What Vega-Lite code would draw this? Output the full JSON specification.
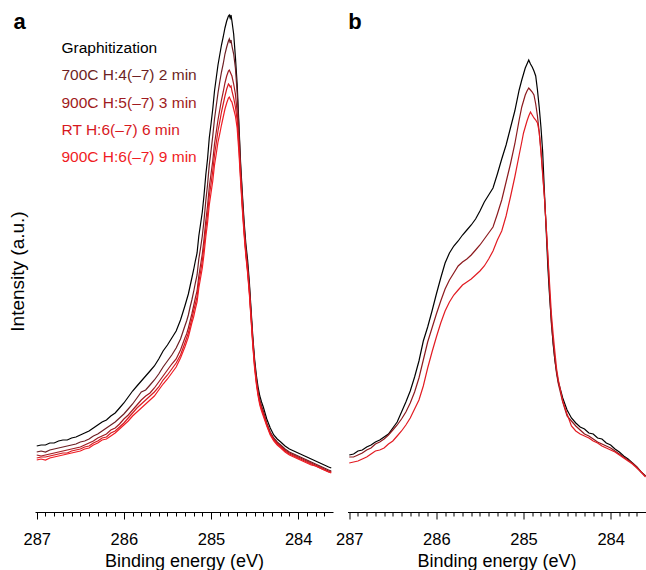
{
"$schema": "https://vega.github.io/schema/vega-lite/v6.json",
"padding": {"left": 8, "top": 10, "right": 1, "bottom": 0},
"background": "white",
"spacing": 14.5,
"bounds": "flush",
"config": {"view": {"stroke": null}, "font": "Liberation Sans"},
"datasets": {
"a": [
{"E":287.00,"K":66,"M":60,"D":57,"R":54,"B":52},
{"E":286.95,"K":67,"M":61,"D":56,"R":55,"B":53},
{"E":286.90,"K":67,"M":60,"D":57,"R":55,"B":52},
{"E":286.85,"K":69,"M":62,"D":58,"R":56,"B":54},
{"E":286.80,"K":69,"M":63,"D":59,"R":57,"B":55},
{"E":286.75,"K":71,"M":64,"D":60,"R":58,"B":56},
{"E":286.70,"K":72,"M":65,"D":61,"R":59,"B":57},
{"E":286.65,"K":72,"M":66,"D":62,"R":59,"B":58},
{"E":286.60,"K":74,"M":67,"D":63,"R":61,"B":59},
{"E":286.55,"K":75,"M":68,"D":64,"R":62,"B":60},
{"E":286.50,"K":77,"M":70,"D":65,"R":63,"B":61},
{"E":286.45,"K":79,"M":71,"D":67,"R":65,"B":63},
{"E":286.40,"K":81,"M":73,"D":69,"R":66,"B":64},
{"E":286.35,"K":84,"M":76,"D":71,"R":69,"B":67},
{"E":286.30,"K":87,"M":78,"D":74,"R":71,"B":69},
{"E":286.25,"K":90,"M":81,"D":76,"R":74,"B":72},
{"E":286.20,"K":92,"M":84,"D":78,"R":75,"B":73},
{"E":286.15,"K":96,"M":87,"D":82,"R":79,"B":76},
{"E":286.10,"K":99,"M":90,"D":84,"R":81,"B":79},
{"E":286.05,"K":104,"M":94,"D":88,"R":85,"B":83},
{"E":286.00,"K":109,"M":98,"D":93,"R":89,"B":87},
{"E":285.95,"K":115,"M":103,"D":97,"R":94,"B":91},
{"E":285.90,"K":121,"M":108,"D":102,"R":99,"B":96},
{"E":285.85,"K":126,"M":114,"D":107,"R":104,"B":100},
{"E":285.80,"K":131,"M":120,"D":112,"R":108,"B":104},
{"E":285.75,"K":136,"M":122,"D":116,"R":112,"B":108},
{"E":285.70,"K":141,"M":127,"D":119,"R":116,"B":112},
{"E":285.65,"K":146,"M":132,"D":124,"R":120,"B":116},
{"E":285.60,"K":153,"M":138,"D":130,"R":125,"B":122},
{"E":285.55,"K":161,"M":145,"D":136,"R":132,"B":128},
{"E":285.50,"K":167,"M":151,"D":142,"R":137,"B":133},
{"E":285.45,"K":174,"M":157,"D":148,"R":143,"B":139},
{"E":285.40,"K":181,"M":164,"D":153,"R":149,"B":145},
{"E":285.35,"K":192,"M":173,"D":162,"R":157,"B":154},
{"E":285.30,"K":206,"M":186,"D":174,"R":169,"B":165},
{"E":285.28,"K":212,"M":191,"D":178,"R":174,"B":170},
{"E":285.26,"K":218,"M":197,"D":184,"R":179,"B":175},
{"E":285.24,"K":226,"M":205,"D":191,"R":186,"B":182},
{"E":285.22,"K":234,"M":212,"D":198,"R":193,"B":189},
{"E":285.20,"K":242,"M":220,"D":206,"R":201,"B":195},
{"E":285.18,"K":251,"M":229,"D":214,"R":208,"B":203},
{"E":285.16,"K":259,"M":237,"D":221,"R":215,"B":210},
{"E":285.14,"K":276,"M":253,"D":236,"R":230,"B":224},
{"E":285.12,"K":288,"M":264,"D":247,"R":240,"B":234},
{"E":285.10,"K":300,"M":276,"D":258,"R":251,"B":244},
{"E":285.08,"K":317,"M":292,"D":273,"R":266,"B":258},
{"E":285.06,"K":337,"M":311,"D":291,"R":283,"B":275},
{"E":285.04,"K":353,"M":327,"D":306,"R":297,"B":289},
{"E":285.02,"K":374,"M":347,"D":325,"R":316,"B":307},
{"E":285.00,"K":388,"M":361,"D":338,"R":328,"B":319},
{"E":284.98,"K":403,"M":376,"D":351,"R":341,"B":331},
{"E":284.96,"K":421,"M":393,"D":368,"R":357,"B":347},
{"E":284.94,"K":434,"M":406,"D":380,"R":369,"B":358},
{"E":284.92,"K":447,"M":419,"D":392,"R":381,"B":370},
{"E":284.90,"K":457,"M":430,"D":402,"R":390,"B":378},
{"E":284.88,"K":467,"M":440,"D":412,"R":400,"B":387},
{"E":284.86,"K":475,"M":448,"D":420,"R":408,"B":395},
{"E":284.84,"K":484,"M":458,"D":429,"R":416,"B":403},
{"E":284.82,"K":491,"M":465,"D":436,"R":423,"B":409},
{"E":284.80,"K":496,"M":471,"D":441,"R":428,"B":414},
{"E":284.79,"K":497,"M":473,"D":442,"R":427,"B":415},
{"E":284.78,"K":494,"M":469,"D":440,"R":425,"B":413},
{"E":284.77,"K":497,"M":472,"D":438,"R":426,"B":411},
{"E":284.76,"K":491,"M":466,"D":436,"R":421,"B":410},
{"E":284.74,"K":478,"M":458,"D":428,"R":414,"B":403},
{"E":284.72,"K":455,"M":444,"D":418,"R":405,"B":396},
{"E":284.70,"K":428,"M":420,"D":400,"R":392,"B":384},
{"E":284.68,"K":388,"M":384,"D":372,"R":366,"B":360},
{"E":284.66,"K":348,"M":345,"D":338,"R":334,"B":330},
{"E":284.64,"K":318,"M":314,"D":308,"R":305,"B":302},
{"E":284.62,"K":290,"M":286,"D":282,"R":280,"B":277},
{"E":284.60,"K":268,"M":264,"D":260,"R":258,"B":256},
{"E":284.58,"K":252,"M":247,"D":243,"R":241,"B":239},
{"E":284.56,"K":230,"M":226,"D":222,"R":220,"B":218},
{"E":284.54,"K":202,"M":199,"D":196,"R":194,"B":192},
{"E":284.52,"K":175,"M":172,"D":170,"R":168,"B":166},
{"E":284.50,"K":153,"M":150,"D":148,"R":146,"B":144},
{"E":284.48,"K":137,"M":134,"D":132,"R":130,"B":128},
{"E":284.46,"K":125,"M":121,"D":119,"R":118,"B":116},
{"E":284.44,"K":116,"M":112,"D":110,"R":109,"B":107},
{"E":284.42,"K":110,"M":106,"D":104,"R":103,"B":101},
{"E":284.40,"K":105,"M":101,"D":99,"R":98,"B":96},
{"E":284.36,"K":93,"M":89,"D":88,"R":87,"B":86},
{"E":284.32,"K":84,"M":80,"D":79,"R":78,"B":77},
{"E":284.28,"K":77,"M":74,"D":73,"R":72,"B":71},
{"E":284.24,"K":73,"M":70,"D":69,"R":68,"B":67},
{"E":284.20,"K":70,"M":67,"D":66,"R":65,"B":64},
{"E":284.15,"K":66,"M":63,"D":62,"R":61,"B":60},
{"E":284.10,"K":63,"M":60,"D":59,"R":58,"B":57},
{"E":284.05,"K":61,"M":58,"D":57,"R":56,"B":55},
{"E":284.00,"K":59,"M":56,"D":55,"R":54,"B":53},
{"E":283.95,"K":57,"M":54,"D":53,"R":52,"B":51},
{"E":283.90,"K":55,"M":52,"D":51,"R":50,"B":49},
{"E":283.85,"K":53,"M":50,"D":49,"R":48,"B":47},
{"E":283.80,"K":51,"M":48,"D":47,"R":46,"B":46},
{"E":283.75,"K":49,"M":46,"D":45,"R":44,"B":44},
{"E":283.70,"K":47,"M":44,"D":43,"R":42,"B":42},
{"E":283.65,"K":45,"M":42,"D":41,"R":40,"B":40},
{"E":283.62,"K":44,"M":41,"D":40,"R":40,"B":39}
],
"b": [
{"E":287.00,"K":57,"M":55,"R":49},
{"E":286.95,"K":58,"M":55,"R":50},
{"E":286.90,"K":61,"M":57,"R":51},
{"E":286.85,"K":62,"M":59,"R":53},
{"E":286.80,"K":65,"M":62,"R":55},
{"E":286.75,"K":67,"M":64,"R":58},
{"E":286.70,"K":70,"M":68,"R":61},
{"E":286.65,"K":72,"M":70,"R":62},
{"E":286.60,"K":75,"M":73,"R":64},
{"E":286.55,"K":78,"M":77,"R":68},
{"E":286.50,"K":84,"M":82,"R":71},
{"E":286.45,"K":90,"M":87,"R":76},
{"E":286.40,"K":100,"M":93,"R":81},
{"E":286.35,"K":110,"M":100,"R":87},
{"E":286.30,"K":121,"M":109,"R":94},
{"E":286.25,"K":135,"M":120,"R":103},
{"E":286.20,"K":151,"M":134,"R":112},
{"E":286.15,"K":171,"M":152,"R":126},
{"E":286.10,"K":185,"M":170,"R":144},
{"E":286.05,"K":201,"M":184,"R":160},
{"E":286.00,"K":218,"M":198,"R":175},
{"E":285.95,"K":234,"M":211,"R":189},
{"E":285.90,"K":249,"M":223,"R":201},
{"E":285.85,"K":259,"M":232,"R":210},
{"E":285.80,"K":266,"M":239,"R":217},
{"E":285.75,"K":271,"M":246,"R":222},
{"E":285.70,"K":277,"M":250,"R":227},
{"E":285.65,"K":282,"M":253,"R":230},
{"E":285.60,"K":287,"M":257,"R":233},
{"E":285.55,"K":293,"M":262,"R":237},
{"E":285.50,"K":301,"M":267,"R":241},
{"E":285.45,"K":310,"M":273,"R":246},
{"E":285.40,"K":317,"M":279,"R":253},
{"E":285.35,"K":324,"M":285,"R":261},
{"E":285.30,"K":338,"M":298,"R":272},
{"E":285.25,"K":353,"M":312,"R":281},
{"E":285.20,"K":367,"M":330,"R":296},
{"E":285.15,"K":384,"M":348,"R":315},
{"E":285.10,"K":401,"M":368,"R":335},
{"E":285.05,"K":422,"M":392,"R":357},
{"E":285.02,"K":432,"M":405,"R":370},
{"E":285.00,"K":438,"M":411,"R":379},
{"E":284.98,"K":444,"M":417,"R":385},
{"E":284.96,"K":448,"M":421,"R":391},
{"E":284.94,"K":452,"M":424,"R":396},
{"E":284.92,"K":448,"M":422,"R":400},
{"E":284.90,"K":445,"M":420,"R":397},
{"E":284.88,"K":441,"M":417,"R":394},
{"E":284.86,"K":436,"M":408,"R":392},
{"E":284.84,"K":422,"M":396,"R":389},
{"E":284.82,"K":405,"M":380,"R":380},
{"E":284.80,"K":385,"M":362,"R":360},
{"E":284.78,"K":360,"M":340,"R":337},
{"E":284.76,"K":320,"M":315,"R":315},
{"E":284.74,"K":282,"M":286,"R":286},
{"E":284.72,"K":244,"M":254,"R":256},
{"E":284.70,"K":215,"M":218,"R":227},
{"E":284.68,"K":191,"M":188,"R":198},
{"E":284.66,"K":168,"M":170,"R":178},
{"E":284.64,"K":152,"M":152,"R":160},
{"E":284.62,"K":140,"M":138,"R":143},
{"E":284.60,"K":130,"M":128,"R":132},
{"E":284.55,"K":114,"M":110,"R":111},
{"E":284.50,"K":102,"M":96,"R":98},
{"E":284.45,"K":94,"M":91,"R":86},
{"E":284.40,"K":89,"M":86,"R":81},
{"E":284.35,"K":85,"M":82,"R":78},
{"E":284.30,"K":83,"M":78,"R":76},
{"E":284.25,"K":79,"M":76,"R":74},
{"E":284.20,"K":78,"M":73,"R":71},
{"E":284.15,"K":74,"M":70,"R":69},
{"E":284.10,"K":73,"M":68,"R":66},
{"E":284.05,"K":69,"M":66,"R":64},
{"E":284.00,"K":67,"M":64,"R":62},
{"E":283.95,"K":63,"M":61,"R":60},
{"E":283.90,"K":60,"M":58,"R":57},
{"E":283.85,"K":56,"M":55,"R":54},
{"E":283.80,"K":53,"M":52,"R":51},
{"E":283.75,"K":49,"M":49,"R":48},
{"E":283.70,"K":45,"M":45,"R":44},
{"E":283.65,"K":40,"M":40,"R":40},
{"E":283.60,"K":36,"M":36,"R":35}
]
},
"hconcat": [
{
"width": 298, "height": 502,
"layer": [
{
"layer": [
{
"data": {"name": "a"},
"transform": [{"fold": ["K", "M", "D", "R", "B"], "as": ["key", "h"]}],
"mark": {"type": "line", "strokeWidth": 1.2},
"encoding": {
"x": {"field": "E", "type": "quantitative",
"scale": {"domain": [283.6, 287.02], "reverse": true, "nice": false, "zero": false},
"axis": {"values": [287,286.9,286.8,286.7,286.6,286.5,286.4,286.3,286.2,286.1,286,285.9,285.8,285.7,285.6,285.5,285.4,285.3,285.2,285.1,285,284.9,284.8,284.7,284.6,284.5,284.4,284.3,284.2,284.1,284,283.9,283.8,283.7],
"title": "Binding energy (eV)",
"labelExpr": "abs(datum.value - round(datum.value)) < 0.01 ? format(datum.value, 'd') : ''",
"tickSize": {"condition": {"test": "abs(datum.value - round(datum.value)) < 0.01", "value": 7}, "value": 4},
"labelOverlap": false, "labelFlush": false, "labelPadding": 12, "labelFontSize": 16.5, "labelColor": "black",
"titleFontSize": 18, "titleFontWeight": "normal", "titlePadding": 4.5, "titleColor": "black",
"domainColor": "black", "tickColor": "black", "grid": false, "domainWidth": 1, "tickWidth": 1}},
"y": {"field": "h", "type": "quantitative",
"scale": {"domain": [0, 502], "nice": false, "zero": false},
"axis": {"title": "Intensity (a.u.)", "domain": false, "ticks": false, "labels": false, "grid": false, "titleFontSize": 19, "titleFontWeight": "normal", "titlePadding": 8, "titleColor": "black", "titleY": 261}},
"color": {"field": "key", "type": "nominal",
"scale": {"domain": ["K", "M", "D", "R", "B"], "range": ["#000000", "#6d1f24", "#a01b21", "#d7191f", "#f01c24"]},
"legend": null}
}
},
{
"data": {"values": [{"t": "a"}]},
"mark": {"type": "text", "align": "left", "baseline": "alphabetic", "fontSize": 22, "fontWeight": "bold", "font": "Liberation Sans", "color": "black"},
"encoding": {
"x": {"datum": 287.267, "type": "quantitative",
"axis": {"values": [287,286.9,286.8,286.7,286.6,286.5,286.4,286.3,286.2,286.1,286,285.9,285.8,285.7,285.6,285.5,285.4,285.3,285.2,285.1,285,284.9,284.8,284.7,284.6,284.5,284.4,284.3,284.2,284.1,284,283.9,283.8,283.7],
"title": "Binding energy (eV)",
"labelExpr": "abs(datum.value - round(datum.value)) < 0.01 ? format(datum.value, 'd') : ''",
"tickSize": {"condition": {"test": "abs(datum.value - round(datum.value)) < 0.01", "value": 7}, "value": 4},
"labelOverlap": false, "labelFlush": false, "labelPadding": 12, "labelFontSize": 16.5, "labelColor": "black",
"titleFontSize": 18, "titleFontWeight": "normal", "titlePadding": 4.5, "titleColor": "black",
"domainColor": "black", "tickColor": "black", "grid": false, "domainWidth": 1, "tickWidth": 1}},
"y": {"datum": 483, "type": "quantitative",
"axis": {"title": "Intensity (a.u.)", "domain": false, "ticks": false, "labels": false, "grid": false, "titleFontSize": 19, "titleFontWeight": "normal", "titlePadding": 8, "titleColor": "black", "titleY": 261}},
"text": {"field": "t"}
}
}
]
},
{
"data": {"values": [
{"key": "K", "label": "Graphitization"},
{"key": "M", "label": "700C H:4(–7) 2 min"},
{"key": "D", "label": "900C H:5(–7) 3 min"},
{"key": "R", "label": "RT H:6(–7) 6 min"},
{"key": "B", "label": "900C H:6(–7) 9 min"}
]},
"mark": {"type": "text", "align": "left", "baseline": "alphabetic", "fontSize": 15.5, "font": "Liberation Sans"},
"encoding": {
"x": {"datum": 286.716, "type": "quantitative",
"axis": {"values": [287,286.9,286.8,286.7,286.6,286.5,286.4,286.3,286.2,286.1,286,285.9,285.8,285.7,285.6,285.5,285.4,285.3,285.2,285.1,285,284.9,284.8,284.7,284.6,284.5,284.4,284.3,284.2,284.1,284,283.9,283.8,283.7],
"title": "Binding energy (eV)",
"labelExpr": "abs(datum.value - round(datum.value)) < 0.01 ? format(datum.value, 'd') : ''",
"tickSize": {"condition": {"test": "abs(datum.value - round(datum.value)) < 0.01", "value": 7}, "value": 4},
"labelOverlap": false, "labelFlush": false, "labelPadding": 12, "labelFontSize": 16.5, "labelColor": "black",
"titleFontSize": 18, "titleFontWeight": "normal", "titlePadding": 4.5, "titleColor": "black",
"domainColor": "black", "tickColor": "black", "grid": false, "domainWidth": 1, "tickWidth": 1}},
"y": {"field": "key", "type": "nominal", "scale": {"type": "point", "domain": ["K", "M", "D", "R", "B"], "range": [43, 152], "padding": 0}, "axis": null},
"text": {"field": "label"},
"color": {"field": "key", "type": "nominal", "legend": null}
}
}
],
"resolve": {"scale": {"y": "independent"}}
},
{
"width": 298, "height": 502,
"layer": [
{
"data": {"name": "b"},
"transform": [{"fold": ["K", "M", "R"], "as": ["key", "h"]}],
"mark": {"type": "line", "strokeWidth": 1.2},
"encoding": {
"x": {"field": "E", "type": "quantitative",
"scale": {"domain": [283.6, 287.02], "reverse": true, "nice": false, "zero": false},
"axis": {"values": [287,286.9,286.8,286.7,286.6,286.5,286.4,286.3,286.2,286.1,286,285.9,285.8,285.7,285.6,285.5,285.4,285.3,285.2,285.1,285,284.9,284.8,284.7,284.6,284.5,284.4,284.3,284.2,284.1,284,283.9,283.8,283.7],
"title": "Binding energy (eV)",
"labelExpr": "abs(datum.value - round(datum.value)) < 0.01 ? format(datum.value, 'd') : ''",
"tickSize": {"condition": {"test": "abs(datum.value - round(datum.value)) < 0.01", "value": 7}, "value": 4},
"labelOverlap": false, "labelFlush": false, "labelPadding": 12, "labelFontSize": 16.5, "labelColor": "black",
"titleFontSize": 18, "titleFontWeight": "normal", "titlePadding": 4.5, "titleColor": "black",
"domainColor": "black", "tickColor": "black", "grid": false, "domainWidth": 1, "tickWidth": 1}},
"y": {"field": "h", "type": "quantitative", "scale": {"domain": [0, 502], "nice": false, "zero": false}, "axis": null},
"color": {"field": "key", "type": "nominal",
"scale": {"domain": ["K", "M", "R"], "range": ["#000000", "#8c1a1e", "#e21b22"]},
"legend": null}
}
},
{
"data": {"values": [{"t": "b"}]},
"mark": {"type": "text", "align": "left", "baseline": "alphabetic", "fontSize": 22, "fontWeight": "bold", "font": "Liberation Sans", "color": "black"},
"encoding": {
"x": {"datum": 287.01, "type": "quantitative",
"axis": {"values": [287,286.9,286.8,286.7,286.6,286.5,286.4,286.3,286.2,286.1,286,285.9,285.8,285.7,285.6,285.5,285.4,285.3,285.2,285.1,285,284.9,284.8,284.7,284.6,284.5,284.4,284.3,284.2,284.1,284,283.9,283.8,283.7],
"title": "Binding energy (eV)",
"labelExpr": "abs(datum.value - round(datum.value)) < 0.01 ? format(datum.value, 'd') : ''",
"tickSize": {"condition": {"test": "abs(datum.value - round(datum.value)) < 0.01", "value": 7}, "value": 4},
"labelOverlap": false, "labelFlush": false, "labelPadding": 12, "labelFontSize": 16.5, "labelColor": "black",
"titleFontSize": 18, "titleFontWeight": "normal", "titlePadding": 4.5, "titleColor": "black",
"domainColor": "black", "tickColor": "black", "grid": false, "domainWidth": 1, "tickWidth": 1}},
"y": {"datum": 483, "type": "quantitative", "axis": null},
"text": {"field": "t"}
}
}
]
}
],
"resolve": {"scale": {"x": "independent", "y": "independent", "color": "independent"}}
}
